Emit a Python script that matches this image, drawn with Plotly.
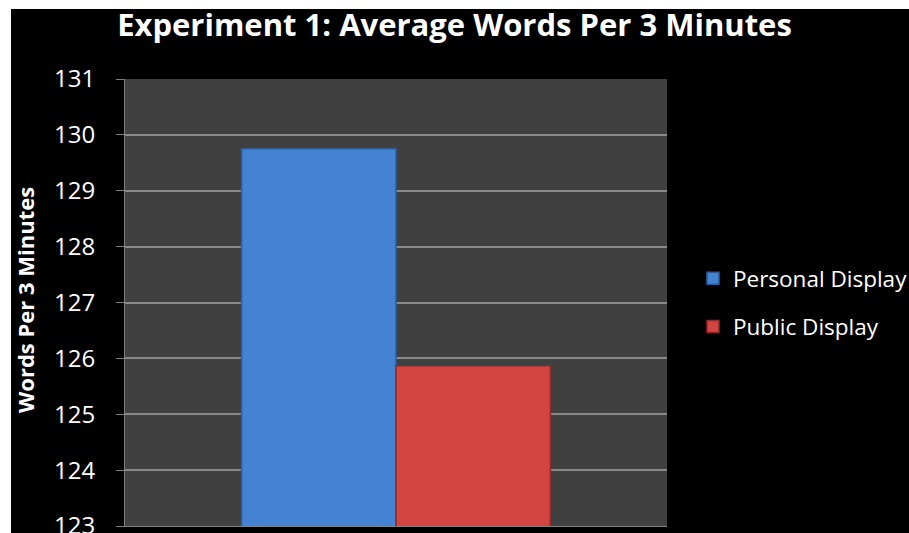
import plotly.graph_objects as go

categories = [""]
series_names = ["Personal Display", "Public Display"]
personal_values = [129.75]
public_values = [125.87]
y_ticks = [123, 124, 125, 126, 127, 128, 129, 130, 131]
y_title = "Words Per 3 Minutes"
chart_title = "Experiment 1: Average Words Per 3 Minutes"

W, H = 909, 533
L, R, T, B = 125, 242, 79, 7
pw, ph = W - L - R, H - T - B

def px_x(x):
    return (x - L) / pw

def px_y(y):
    return (H - B - y) / ph

fig = go.Figure()
fig.add_trace(go.Bar(
    x=categories, y=personal_values, name=series_names[0], legendgroup="a",
    marker=dict(color="#4383D2", line=dict(color="#2A5C9C", width=1.5)),
))
fig.add_trace(go.Bar(
    x=categories, y=public_values, name=series_names[1], legendgroup="b",
    marker=dict(color="#D24541", line=dict(color="#8E2926", width=1.5)),
))

font_family = "Open Sans, DejaVu Sans, sans-serif"

fig.update_layout(
    width=W, height=H,
    margin=dict(l=L, r=R, t=T, b=B, autoexpand=False),
    paper_bgcolor="black",
    plot_bgcolor="#404040",
    barmode="group",
    bargap=0.43,
    bargroupgap=0,
    title=dict(
        text="<b>" + chart_title + "</b>",
        x=0.5, xanchor="center", y=1 - 25 / H, yanchor="middle",
        font=dict(family=font_family, size=31, color="white"),
    ),
    font=dict(family=font_family, color="white"),
    legend=dict(
        xref="container", yref="container",
        x=693 / W, xanchor="left", y=1 - 257 / H, yanchor="top",
        font=dict(family=font_family, size=22.5, color="white"),
        bgcolor="rgba(0,0,0,0)", tracegroupgap=16, traceorder="grouped",
    ),
    showlegend=True,
    xaxis=dict(showticklabels=False, showgrid=False, zeroline=False,
               showline=True, linecolor="#808080", linewidth=1),
    yaxis=dict(
        range=[y_ticks[0], y_ticks[-1]], tickvals=y_ticks,
        showgrid=True, gridcolor="#8A8A8A", gridwidth=1.5,
        showline=True, linecolor="#808080", linewidth=1,
        ticks="outside", ticklen=8, tickcolor="#808080",
        tickfont=dict(family=font_family, size=24, color="white"),
        ticklabelstandoff=16, ticklabeloverflow="allow",
        zeroline=False, automargin=False,
    ),
    annotations=[
        dict(text="<b>" + y_title + "</b>", textangle=-90,
             xref="paper", yref="paper", x=px_x(25), y=px_y(300),
             xanchor="center", yanchor="middle", showarrow=False,
             font=dict(family=font_family, size=22, color="white")),
    ],
    shapes=[
        dict(type="rect", xref="paper", yref="paper",
             x0=px_x(0), x1=px_x(11), y0=px_y(H), y1=px_y(0),
             fillcolor="white", line=dict(width=0), layer="above"),
        dict(type="rect", xref="paper", yref="paper",
             x0=px_x(0), x1=px_x(W), y0=px_y(9), y1=px_y(0),
             fillcolor="white", line=dict(width=0), layer="above"),
    ],
)

fig.write_html("out.html")
